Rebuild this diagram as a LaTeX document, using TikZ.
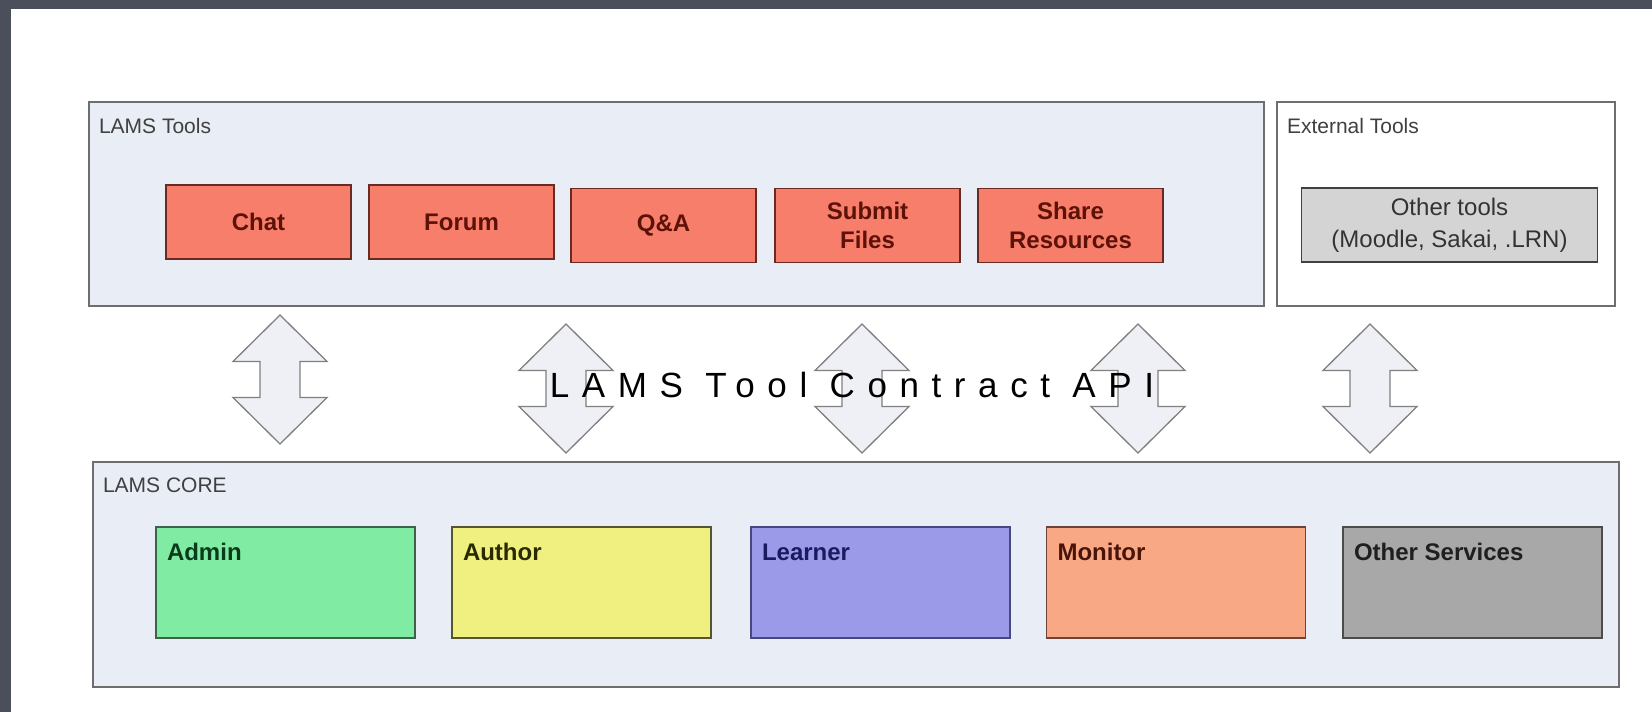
\documentclass[tikz,border=0pt]{standalone}
\usepackage{fontspec}
\setmainfont{Liberation Sans}
\newfontfamily\apifont[LetterSpace=36]{Liberation Sans}
\usepackage{tikz}
\definecolor{darkframe}{HTML}{4A4F5B}
\definecolor{panelblue}{HTML}{E9EDF5}
\definecolor{panelline}{HTML}{6E6E6E}
\definecolor{toolfill}{HTML}{F77E6A}
\definecolor{tooldraw}{HTML}{6A2A22}
\definecolor{tooltext}{HTML}{5C1208}
\definecolor{extfill}{HTML}{D4D4D4}
\definecolor{adminfill}{HTML}{80EBA2}
\definecolor{admintext}{HTML}{0C3A1C}
\definecolor{authorfill}{HTML}{F0F080}
\definecolor{authortext}{HTML}{2A2A00}
\definecolor{learnerfill}{HTML}{9A9AE8}
\definecolor{learnertext}{HTML}{1A1A60}
\definecolor{monitorfill}{HTML}{F8A884}
\definecolor{monitortext}{HTML}{4A1408}
\definecolor{servfill}{HTML}{A8A8A8}
\definecolor{arrowfill}{HTML}{EEF0F5}
\tikzset{
    every node/.style={inner sep=0pt, outer sep=0pt},
    layer/.style={rectangle, draw=panelline, line width=2pt, fill=panelblue},
    layerlabel/.style={anchor=base west, text=black!75, font=\fontsize{21}{25}\selectfont},
    toolbox/.style={rectangle, draw=tooldraw, line width=1.8pt, fill=toolfill, text=tooltext,
        minimum width=185, minimum height=74, align=center, font=\bfseries\fontsize{24}{29.5}\selectfont},
    corebox/.style={rectangle, line width=1.8pt, minimum width=259, minimum height=111},
    coretext/.style={anchor=base west, font=\bfseries\fontsize{24}{28}\selectfont},
    apiarrow/.style={draw=black!50, line width=1.3pt, fill=arrowfill, line join=miter}
}

\begin{document}
\begin{tikzpicture}[x=1pt, y=-1pt]
    \fill[white] (0,0) rectangle (1652,712);
    \fill[darkframe] (0,0) rectangle (11,712);
    \fill[darkframe] (0,0) rectangle (1652,9);
    \useasboundingbox (0,0) rectangle (1652,712);

    \node (tools) [layer, minimum width=1175, minimum height=204] at (676.5,204) {};
    \node (ext) [layer, fill=white, minimum width=338, minimum height=204] at (1446,204) {};
    \node (core) [layer, minimum width=1526, minimum height=225] at (856,574) {};

    \node (toolslabel) [layerlabel] at ([shift={(10,31)}]tools.north west) {LAMS Tools};
    \node (extlabel) [layerlabel] at ([shift={(10,31)}]ext.north west) {External Tools};
    \node (corelabel) [layerlabel] at ([shift={(10,31)}]core.north west) {LAMS CORE};

    \node (chat) [toolbox] at (258.5,222) {Chat};
    \node (forum) [toolbox] at (461.5,222) {Forum};
    \node (qa) [toolbox] at (663.5,225.5) {Q\&A};
    \node (submit) [toolbox] at (867.5,225.5) {Submit\\Files};
    \node (share) [toolbox] at (1070.5,225.5) {Share\\Resources};
    \node (other) [toolbox, minimum width=296, fill=extfill, draw=black!75, text=black!80,
        font=\fontsize{24}{32}\selectfont] at (1449.5,225) {Other tools\\(Moodle, Sakai, .LRN)};

    \node (admin) [corebox, fill=adminfill, draw=admintext!80] at (285.5,582.5) {};
    \node (author) [corebox, fill=authorfill, draw=authortext!80] at (581.5,582.5) {};
    \node (learner) [corebox, fill=learnerfill, draw=learnertext!80] at (880.5,582.5) {};
    \node (monitor) [corebox, fill=monitorfill, draw=monitortext!80] at (1176,582.5) {};
    \node (serv) [corebox, fill=servfill, draw=black!70] at (1472.5,582.5) {};

    \node (admintxt) [coretext, text=admintext] at ([shift={(11,33)}]admin.north west) {Admin};
    \node (authortxt) [coretext, text=authortext] at ([shift={(11,33)}]author.north west) {Author};
    \node (learnertxt) [coretext, text=learnertext] at ([shift={(11,33)}]learner.north west) {Learner};
    \node (monitortxt) [coretext, text=monitortext] at ([shift={(11,33)}]monitor.north west) {Monitor};
    \node (servtxt) [coretext, text=black!88] at ([shift={(11,33)}]serv.north west) {Other Services};

    \foreach \cx/\cy in {280/379.5, 566/388.5, 862/388.5, 1138/388.5, 1370/388.5}
        \draw[apiarrow] (\cx,\cy-64.5) -- (\cx+47,\cy-18) -- (\cx+20,\cy-18) -- (\cx+20,\cy+18)
            -- (\cx+47,\cy+18) -- (\cx,\cy+64.5) -- (\cx-47,\cy+18) -- (\cx-20,\cy+18)
            -- (\cx-20,\cy-18) -- (\cx-47,\cy-18) -- cycle;

    \node (api) [anchor=base, font=\apifont\fontsize{35}{40}\selectfont] at (852,397) {LAMS Tool Contract API};
\end{tikzpicture}
\end{document}
